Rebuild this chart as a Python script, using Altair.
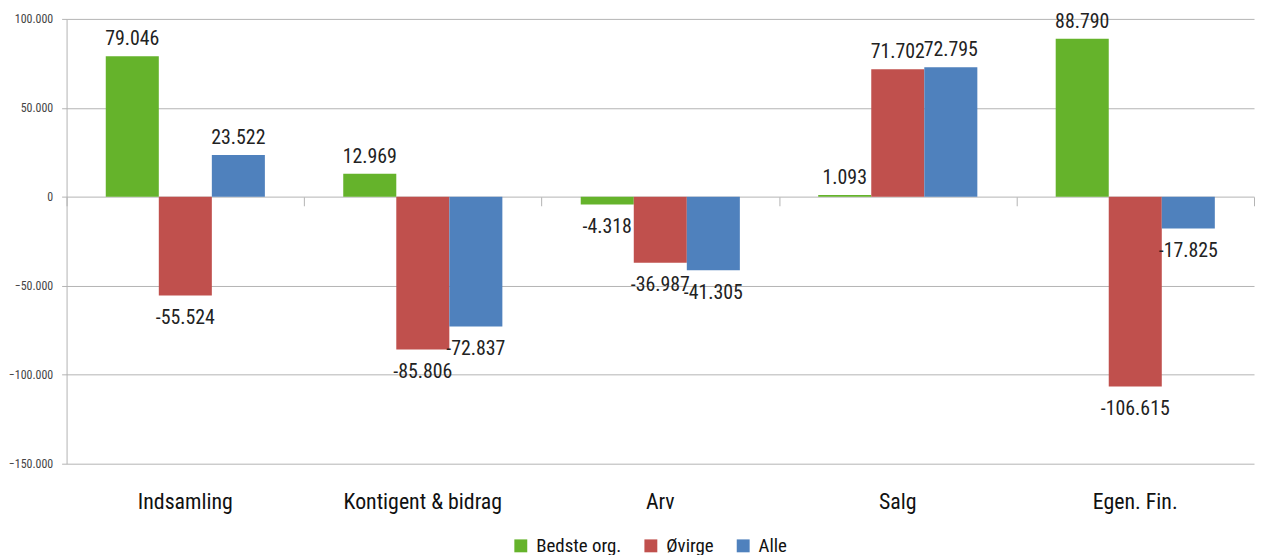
import altair as alt
import pandas as pd

categories = ["Indsamling", "Kontigent & bidrag", "Arv", "Salg", "Egen. Fin."]
series = ["Bedste org.", "Øvirge", "Alle"]
bedste = [79046, 12969, -4318, 1093, 88790]
ovrige = [-55524, -85806, -36987, 71702, -106615]
alle = [23522, -72837, -41305, 72795, -17825]
colors = ["#65B32B", "#C0504D", "#4F81BD"]
y_ticks = [-150000, -100000, -50000, 0, 50000, 100000]

rows = []
for name, vals in zip(series, [bedste, ovrige, alle]):
    for c, v in zip(categories, vals):
        rows.append({"cat": c, "series": name, "value": v})
df = pd.DataFrame(rows)

FONT = "'Roboto Condensed', 'DejaVu Sans Condensed', 'Liberation Sans Narrow', Roboto, sans-serif"
W, H = 1196, 448

x_scale = alt.Scale(paddingInner=0.33, paddingOuter=0.165)
x_axis = alt.Axis(title=None, labelFontSize=22, labelColor="#111", labelFont=FONT,
                  labelPadding=28, ticks=False, domain=False, labelAngle=0, labelLimit=0)
x_enc = alt.X("cat:N", sort=categories, scale=x_scale, axis=x_axis)
x_off = alt.XOffset("series:N", sort=series, scale=alt.Scale(paddingInner=0, paddingOuter=0))
y_axis = alt.Axis(title=None, values=y_ticks, labelFontSize=12, labelColor="#444",
                  labelFont=FONT, gridColor="#B3B3B3", gridWidth=1,
                  domainColor="#B3B3B3", tickColor="#B3B3B3", tickSize=5,
                  labelPadding=9,
                  labelExpr="replace(format(datum.value, ','), regexp(',', 'g'), '.')")
y_enc = alt.Y("value:Q", scale=alt.Scale(domain=[-150000, 100000], nice=False), axis=y_axis)
color_enc = alt.Color("series:N", sort=series,
                      scale=alt.Scale(domain=series, range=colors),
                      legend=alt.Legend(title=None, orient="none", direction="horizontal",
                                        legendX=448, legendY=521,
                                        symbolType="square", symbolSize=169, symbolStrokeWidth=0,
                                        labelFontSize=19, labelFont=FONT, labelColor="#111",
                                        labelOffset=6, columnPadding=20))

base = alt.Chart(df)

bars = base.mark_bar().encode(x=x_enc, xOffset=x_off, y=y_enc, color=color_enc)

label_calc = "replace(replace(format(datum.value, ','), regexp(',', 'g'), '.'), '\u2212', '-')"

pos_text = base.transform_filter("datum.value >= 0").transform_calculate(
    lbl=label_calc).mark_text(baseline="bottom", dy=-7, fontSize=20, font=FONT, color="#222").encode(
    x=x_enc, xOffset=x_off, y=y_enc, text="lbl:N")

neg_text = base.transform_filter("datum.value < 0").transform_calculate(
    lbl=label_calc).mark_text(baseline="top", dy=13, fontSize=20, font=FONT, color="#222").encode(
    x=x_enc, xOffset=x_off, y=y_enc, text="lbl:N")

main = alt.layer(bars, pos_text, neg_text)

# axis with category-boundary ticks placed on the zero line
zero_px = H * 100000 / 250000
tick_axis = base.mark_point(opacity=0).encode(
    x=alt.X("cat:N", sort=categories, scale=alt.Scale(paddingInner=0, paddingOuter=0),
            axis=alt.Axis(orient="top", title=None, labels=False, domain=False, grid=False,
                          ticks=True, tickBand="extent", tickSize=9, tickColor="#B3B3B3",
                          offset=-(zero_px + 9))),
    y=y_enc)

chart = alt.layer(main, tick_axis).resolve_scale(x="independent").properties(
    width=W, height=H, padding={"top": 2, "left": 0, "right": 0, "bottom": 0}
).configure_view(stroke=None)

chart.save("out.html", embed_options={"renderer": "svg", "actions": False})
